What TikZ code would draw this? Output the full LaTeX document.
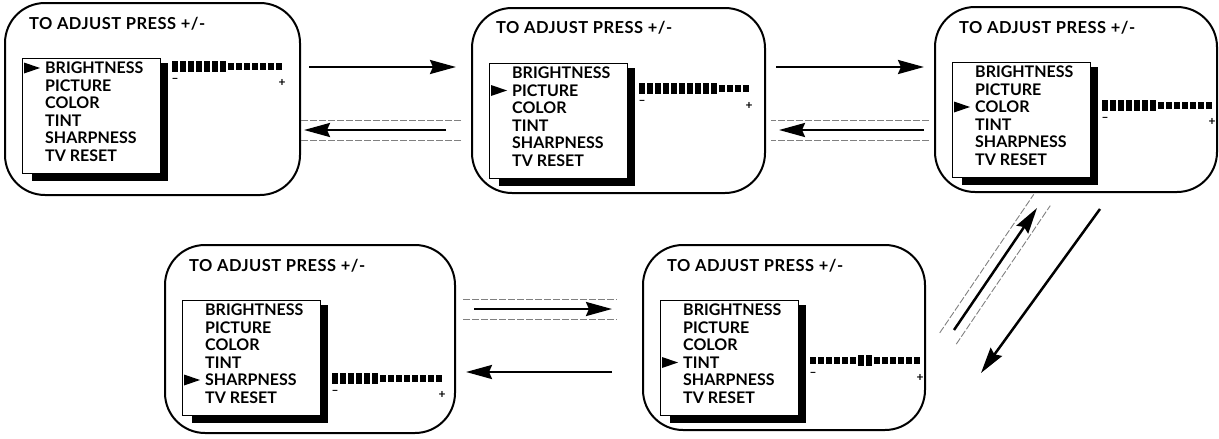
\documentclass[tikz,border=0pt]{standalone}
\usepackage{fontspec}
\setmainfont{Lato}
\newfontfamily\titlefont{Lato}[LetterSpace=3]
\usetikzlibrary{positioning,arrows.meta,calc}

\tikzset{
  screen/.style={draw, line width=2pt, rounded corners=40pt, inner sep=0pt},
  menubox/.style={draw, line width=1pt, minimum width=138pt, minimum height=115pt, inner sep=0pt},
  title/.style={inner sep=0pt, font=\titlefont\bfseries\fontsize{16.5}{16.5}\selectfont},
  item/.style={inner sep=0pt, text height=11pt, text depth=0pt, font=\bfseries\fontsize{16}{16}\selectfont},
  pm/.style={inner sep=0pt, font=\bfseries\fontsize{12}{12}\selectfont},
  arr/.style={line width=2.5pt, -{Stealth[length=26pt,width=14pt,inset=3pt]}},
  frame/.style={gray, line width=0.9pt, dash pattern=on 7pt off 2pt}
}

% one TV screen: name, centre, width, height, selected line, first and last full bar segment
\newcommand{\tvscreen}[7]{%
  \node[screen, minimum width=#3pt, minimum height=#4pt] (#1) at (#2) {};
  \node[title, anchor=base west] (#1t) at ($(#1.north west)+(25,27)$) {TO ADJUST PRESS +/-};
  \node[menubox, anchor=north west] (#1m) at ($(#1.north west)+(18,56)$) {};
  \fill ($(#1m.north east)+(0,5)$) rectangle ($(#1m.south east)+(7,7)$);
  \fill ($(#1m.south west)+(10,0)$) rectangle ($(#1m.south east)+(7,7)$);
  \foreach \txt [count=\i] in {BRIGHTNESS,PICTURE,COLOR,TINT,SHARPNESS,TV RESET}
    \node[item, anchor=base west] (#1i\i) at ($(#1m.north west)+(23,{15.5+17.5*(\i-1)})$) {\txt};
  \fill ($(#1i#5.west)+(-21,-5.5)$) -- ++(16,5.5) -- ++(-16,5.5) -- cycle;
  \coordinate (#1b) at ($(#1m.east |- #1i#5.west)+(11,-2)$);
  \foreach \k in {1,...,14} {
    \ifnum\k<#6 \fill ($(#1b)+({8*(\k-1)},-3.5)$) rectangle ++(6,7);
    \else\ifnum\k>#7 \fill ($(#1b)+({8*(\k-1)},-3.5)$) rectangle ++(6,7);
    \else \fill ($(#1b)+({8*(\k-1)},-5.5)$) rectangle ++(6,11);
    \fi\fi
  }
  \node[pm] (#1mn) at ($(#1b)+(3,14)$) {--};
  \node[pm] (#1pl) at ($(#1b)+(110,17)$) {+};
}

% dashed frame round an arrow
\newcommand{\hilite}[2]{%
  \draw[frame] ($(#1)!10pt!90:(#2)$) -- ($(#2)!10pt!-90:(#1)$);
  \draw[frame] ($(#1)!10pt!-90:(#2)$) -- ($(#2)!10pt!90:(#1)$);
}

\begin{document}
\begin{tikzpicture}[x=1pt, y=-1pt]
  \useasboundingbox (0,0) rectangle (1219,439);

  \tvscreen{s1}{152.5,99}{295}{192}{1}{1}{7}
  \tvscreen{s2}{618.5,100.5}{293}{185}{2}{1}{10}
  \tvscreen{s3}{1076,99.5}{282}{185}{3}{1}{7}
  \tvscreen{s4}{310,339}{290}{188}{5}{1}{6}
  \tvscreen{s5}{784,337.5}{282}{185}{4}{7}{8}

  % top row
  \coordinate (r12a) at ($(s1.east)+(8,-32)$);
  \coordinate (r12b) at ($(s1.east -| s2.west)+(-15,-32)$);
  \coordinate (l21a) at ($(s1.east -| s2.west)+(-25,31)$);
  \coordinate (l21b) at ($(s1.east)+(3,31)$);
  \coordinate (f21a) at ($(s1.east -| s2.west)+(-10,31)$);
  \coordinate (f21b) at ($(s1.east)+(0,31)$);
  \draw[arr] (r12a) -- (r12b);
  \draw[arr] (l21a) -- (l21b);
  \hilite{f21a}{f21b}

  \coordinate (r23a) at ($(s2.east)+(10,-33.5)$);
  \coordinate (r23b) at ($(s2.east -| s3.west)+(-10,-33.5)$);
  \coordinate (l32a) at ($(s2.east -| s3.west)+(-10,29.5)$);
  \coordinate (l32b) at ($(s2.east)+(13,29.5)$);
  \coordinate (f32a) at ($(s2.east -| s3.west)+(-5,29.5)$);
  \coordinate (f32b) at ($(s2.east)+(5,29.5)$);
  \draw[arr] (r23a) -- (r23b);
  \draw[arr] (l32a) -- (l32b);
  \hilite{f32a}{f32b}

  % diagonal
  \coordinate (d35a) at ($(s3.south)+(24,16)$);
  \coordinate (d35b) at ($(s5.east)+(55,35.5)$);
  \coordinate (u53a) at ($(s5.east)+(28,-7.5)$);
  \coordinate (u53b) at ($(s3.south)+(-39,15)$);
  \coordinate (f53a) at ($(s5.east)+(22,1)$);
  \coordinate (f53b) at ($(s3.south)+(-34,7)$);
  \draw[arr] (d35a) -- (d35b);
  \draw[arr] (u53a) -- (u53b);
  \hilite{f53a}{f53b}

  % bottom row
  \coordinate (r45a) at ($(s4.east)+(18,-30)$);
  \coordinate (r45b) at ($(s4.east -| s5.west)+(-30,-30)$);
  \coordinate (f45a) at ($(s4.east)+(7,-30)$);
  \coordinate (f45b) at ($(s4.east -| s5.west)+(-25,-30)$);
  \coordinate (l54a) at ($(s4.east -| s5.west)+(-30,33)$);
  \coordinate (l54b) at ($(s4.east)+(10,33)$);
  \draw[arr] (r45a) -- (r45b);
  \hilite{f45a}{f45b}
  \draw[arr] (l54a) -- (l54b);
\end{tikzpicture}
\end{document}
